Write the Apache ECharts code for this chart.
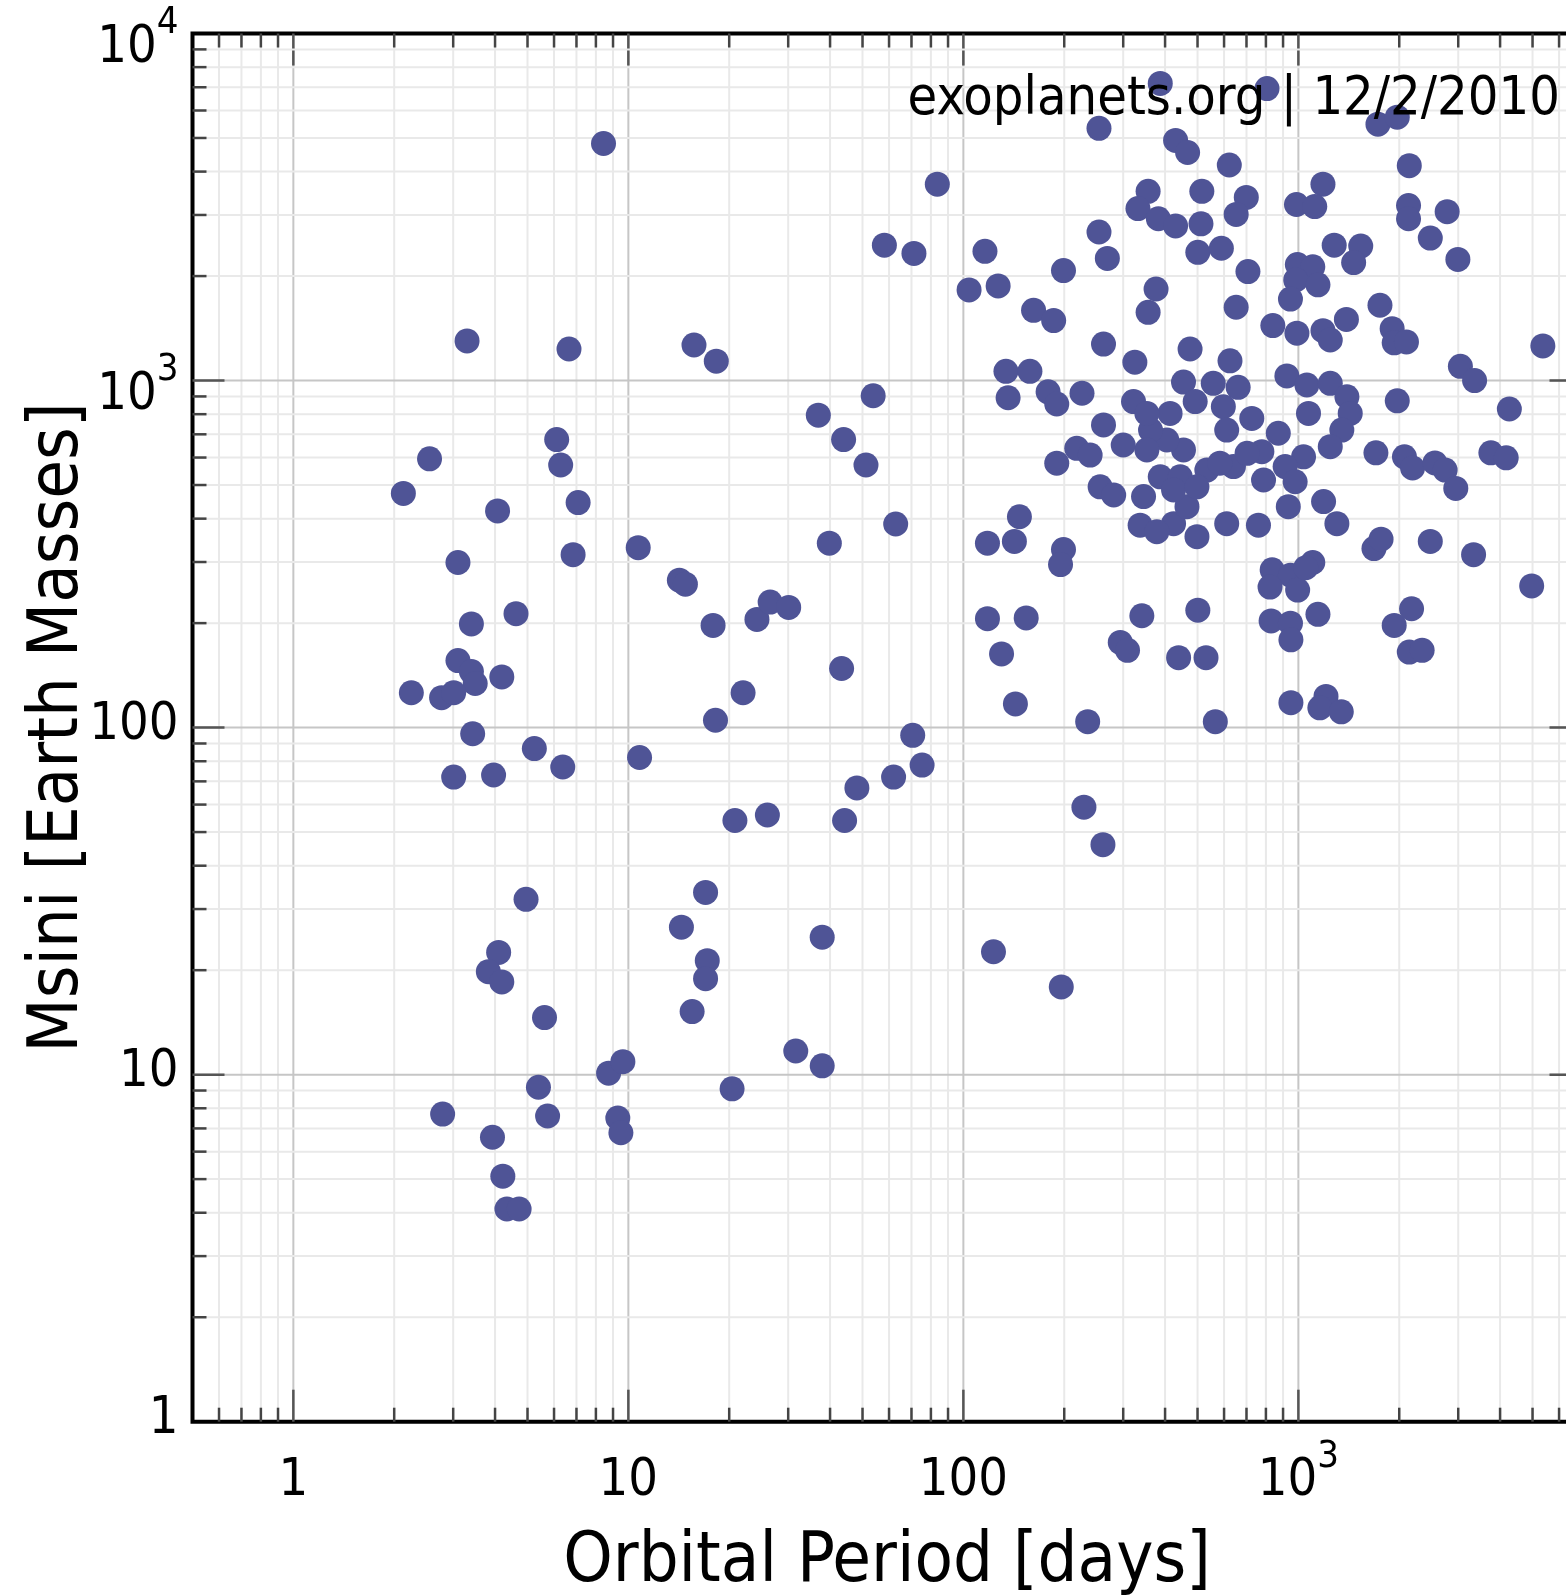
<!DOCTYPE html>
<html>
<head>
<meta charset="utf-8">
<script src="https://cdn.jsdelivr.net/npm/echarts@6/dist/echarts.min.js"></script>
<style>
  html, body { margin: 0; padding: 0; background: #fff; overflow: hidden; }
  #chart { width: 1600px; height: 1596px; }
</style>
</head>
<body>
<div id="chart"></div>
<script>
// Orbital period (days) and minimum mass (Earth masses) of known exoplanets
const periodDays = [
  387, 806, 8.43, 254, 1728, 1973, 430, 467, 622, 2143,
  83.6, 356, 332, 515, 699, 652, 1184, 987, 1119, 382,
  430, 512, 2132, 2132, 2780, 58.1, 71.2, 116, 254, 269,
  501, 589, 1279, 1535, 1462, 2476, 2993, 199, 707, 993,
  1104, 982, 1144, 104, 127, 376, 947, 162, 186, 356,
  652, 1752, 839, 1391, 990, 1184, 1245, 1905, 1932, 2102,
  3.30, 6.65, 15.7, 18.3, 5367, 134, 158, 3045, 3357, 136,
  179, 190, 1973, 4263, 53.8, 36.9, 43.9, 2.55, 2.13, 6.11,
  6.28, 51.2, 1704, 2073, 2192, 2556, 2742, 3755, 4172, 2950,
  7.08, 4.07, 62.8, 10.7, 39.8, 118, 142, 147, 199, 1681,
  1765, 2476, 3.10, 6.84, 195, 3334, 14.2, 14.8, 835, 947,
  1104, 823, 995, 1052, 4970, 4.62, 3.40, 17.9, 24.2, 26.5,
  30.1, 118, 154, 341, 501, 829, 947, 1144, 1932, 2177,
  294, 309, 950, 2143, 2341, 3.10, 3.40, 3.49, 4.19, 2.25,
  2.77, 3.01, 43.3, 130, 439, 530, 22.0, 143, 950, 1209,
  1159, 1343, 3.43, 18.2, 235, 565, 70.6, 5.24, 6.37, 10.8,
  3.01, 3.96, 61.9, 75.3, 48.1, 20.8, 26.0, 44.2, 229, 261,
  4.95, 17.0, 14.4, 37.9, 123, 196, 4.10, 3.82, 4.19, 17.2,
  17.0, 5.62, 15.5, 31.6, 37.9, 8.73, 9.63, 5.39, 20.4, 2.79,
  5.74, 9.30, 9.50, 3.93, 4.22, 4.34, 4.72,
  262, 325, 475, 625, 454, 557, 661, 492, 597, 611,
  726, 924, 1060, 1245, 1396, 1428, 1348, 1245, 1072, 871,
  778, 1036, 913, 787, 978, 933, 1189, 1303, 760, 611,
  498, 424, 337, 378, 345, 465, 387, 444, 424, 533,
  640, 703, 454, 405, 362, 322, 414, 353, 300, 262,
  226, 190, 218, 239, 256, 281, 498, 583, 353
];
const massEarth = [
  7180, 6940, 4820, 5330, 5480, 5740, 4920, 4540, 4180, 4160,
  3680, 3510, 3130, 3510, 3370, 3010, 3680, 3215, 3172, 2925,
  2790, 2828, 3193, 2925, 3066, 2455, 2325, 2357, 2680, 2248,
  2341, 2405, 2455, 2440, 2188, 2573, 2234, 2074, 2060, 2160,
  2128, 1950, 1887, 1824, 1874, 1836, 1717, 1593, 1489, 1572,
  1626, 1648, 1440, 1500, 1369, 1392, 1309, 1411, 1284, 1292,
  1301, 1233, 1266, 1137, 1258, 1063, 1063, 1099, 1000, 892,
  928, 856, 874, 828, 904, 795, 676, 595, 473, 676,
  571, 571, 619, 603, 560, 579, 552, 619, 599, 489,
  445, 421, 386, 330, 340, 340, 344, 405, 326, 328,
  349, 344, 299, 315, 295, 315, 266, 259, 285, 275,
  299, 254, 249, 289, 256, 213, 199, 197, 205, 230,
  222, 206, 207, 210, 218, 203, 200, 212, 197, 220,
  176, 167, 179, 165, 167, 156, 145, 134, 140, 126,
  122, 126, 148, 163, 159, 159, 126, 117, 118, 123,
  114, 111, 96, 105, 104, 104, 95, 87, 77, 82,
  72, 73, 72, 78, 67, 54, 56, 54, 59, 46,
  32, 33.5, 26.6, 24.9, 22.6, 17.9, 22.5, 19.8, 18.5, 21.3,
  18.9, 14.6, 15.2, 11.7, 10.6, 10.1, 10.9, 9.2, 9.1, 7.7,
  7.6, 7.5, 6.8, 6.6, 5.1, 4.1, 4.1,
  1274, 1130, 1233, 1140, 990, 982, 956, 870, 841, 720,
  778, 1031, 971, 982, 898, 804, 720, 645, 804, 705,
  624, 603, 565, 517, 511, 433, 448, 387, 383, 387,
  355, 387, 383, 367, 463, 433, 528, 528, 484, 552,
  565, 617, 631, 674, 720, 870, 804, 631, 652, 745,
  919, 578, 638, 610, 494, 468, 494, 578, 804
];

// Axis ranges and labelled decades
const periodRange = [0.5, 7000];
const massRange = [1, 10000];
const periodDecades = [0.1, 1, 10, 100, 1000];
const massDecades = [1, 10, 100, 1000];
const minorSteps = [2, 3, 4, 5, 6, 7, 8, 9];
const annotation = 'exoplanets.org | 12/2/2010';

const FONT = "'DejaVu Sans Condensed', 'DejaVu Sans', sans-serif";
const INK = '#000';
const DOT = '#4f5496';

// Grid line / tick positions: every decade and its 2..9 subdivisions inside the range
function gridValues(decades, range) {
  const out = [];
  decades.forEach(d => {
    out.push([d, 1]);
    minorSteps.forEach(m => out.push([+(d * m).toPrecision(6), 0]));
  });
  out.push([decades[decades.length - 1] * 10, 1]);
  return out.filter(v => v[0] > range[0] * 1.0001 && v[0] < range[1] * 0.9999);
}
const xGrid = gridValues(periodDecades, periodRange);
const yGrid = gridValues(massDecades, massRange);

function isPow10(v) {
  const l = Math.log10(v);
  return Math.abs(l - Math.round(l)) < 1e-6;
}

// Decade labels: plain numbers below 1000, powers of ten above
function decadeLabel(v) {
  if (!isPow10(v)) return '';
  const e = Math.round(Math.log10(v));
  return e < 3 ? '{p|' + Math.pow(10, e) + '}' : '{m|10}{s|' + e + '}';
}

const MAJOR_LEN = 32, MINOR_LEN = 14;

function vLines(params, api) {
  const cs = params.coordSys;
  const px = api.coord([api.value(0), 1])[0];
  const major = api.value(1) === 1;
  const len = major ? MAJOR_LEN : MINOR_LEN;
  const tickColor = major ? '#555' : '#444';
  const top = cs.y, bottom = cs.y + cs.height;
  return {
    type: 'group',
    children: [
      { type: 'line', shape: { x1: px, y1: top + 2, x2: px, y2: bottom - 2 },
        style: { stroke: major ? '#c6c6c6' : '#e9e9e9', lineWidth: 2 } },
      { type: 'line', shape: { x1: px, y1: top, x2: px, y2: top + len },
        style: { stroke: tickColor, lineWidth: 2.5 } },
      { type: 'line', shape: { x1: px, y1: bottom, x2: px, y2: bottom - len },
        style: { stroke: tickColor, lineWidth: 2.5 } }
    ]
  };
}

function hLines(params, api) {
  const cs = params.coordSys;
  const py = api.coord([1, api.value(0)])[1];
  const major = api.value(1) === 1;
  const len = major ? MAJOR_LEN : MINOR_LEN;
  const tickColor = major ? '#555' : '#444';
  const left = cs.x, right = cs.x + cs.width;
  return {
    type: 'group',
    children: [
      { type: 'line', shape: { x1: left + 2, y1: py, x2: right - 2, y2: py },
        style: { stroke: major ? '#c6c6c6' : '#e9e9e9', lineWidth: 2 } },
      { type: 'line', shape: { x1: left, y1: py, x2: left + len, y2: py },
        style: { stroke: tickColor, lineWidth: 2.5 } },
      { type: 'line', shape: { x1: right, y1: py, x2: right - len, y2: py },
        style: { stroke: tickColor, lineWidth: 2.5 } }
    ]
  };
}

const chart = echarts.init(document.getElementById('chart'), null, { renderer: 'canvas' });

chart.setOption({
  animation: false,
  backgroundColor: '#fff',
  textStyle: { fontFamily: FONT },
  title: {
    text: annotation,
    right: 40,
    top: 73,
    padding: 0,
    textStyle: { fontFamily: FONT, fontSize: 53.7, fontWeight: 'normal', color: INK }
  },
  grid: {
    left: 192.5,
    top: 33.5,
    width: 1389,
    height: 1388.2,
    containLabel: false,
    outerBoundsMode: 'none',
    show: true,
    borderColor: INK,
    borderWidth: 4,
    backgroundColor: '#fff'
  },
  xAxis: {
    type: 'log',
    logBase: 10,
    min: periodRange[0],
    max: periodRange[1],
    name: 'Orbital Period [days]',
    nameLocation: 'middle',
    nameGap: 106,
    nameMoveOverlap: false,
    nameTextStyle: { fontFamily: FONT, fontSize: 70, color: INK },
    axisLine: { show: false },
    axisTick: { show: false },
    splitLine: { show: false },
    minorTick: { show: false },
    axisLabel: {
      margin: 16,
      showMinLabel: true,
      showMaxLabel: true,
      formatter: decadeLabel,
      rich: {
        p: { fontFamily: FONT, fontSize: 52, lineHeight: 70, verticalAlign: 'bottom', color: INK },
        m: { fontFamily: FONT, fontSize: 52, lineHeight: 70, verticalAlign: 'bottom', color: INK },
        s: { fontFamily: FONT, fontSize: 38, verticalAlign: 'top', color: INK }
      }
    }
  },
  yAxis: {
    type: 'log',
    logBase: 10,
    min: massRange[0],
    max: massRange[1],
    name: 'Msini [Earth Masses]',
    nameLocation: 'middle',
    nameGap: 99,
    nameMoveOverlap: false,
    nameRotate: 90,
    nameTextStyle: { fontFamily: FONT, fontSize: 70, color: INK },
    axisLine: { show: false },
    axisTick: { show: false },
    splitLine: { show: false },
    minorTick: { show: false },
    axisLabel: {
      margin: 14,
      padding: [11, 0, 0, 0],
      showMinLabel: true,
      showMaxLabel: true,
      formatter: decadeLabel,
      rich: {
        p: { fontFamily: FONT, fontSize: 52, lineHeight: 68, verticalAlign: 'top', color: INK },
        m: { fontFamily: FONT, fontSize: 52, lineHeight: 70.5, verticalAlign: 'bottom', color: INK },
        s: { fontFamily: FONT, fontSize: 38, verticalAlign: 'top', color: INK }
      }
    }
  },
  series: [
    {
      type: 'custom',
      name: 'period grid',
      silent: true,
      z: 1,
      dimensions: ['v', 'major'],
      encode: { x: 'v' },
      data: xGrid,
      renderItem: vLines
    },
    {
      type: 'custom',
      name: 'mass grid',
      silent: true,
      z: 1,
      dimensions: ['v', 'major'],
      encode: { y: 'v' },
      data: yGrid,
      renderItem: hLines
    },
    {
      type: 'scatter',
      name: 'planets',
      z: 3,
      symbol: 'circle',
      symbolSize: 25,
      itemStyle: { color: DOT, opacity: 1 },
      data: periodDays.map((p, i) => [p, massEarth[i]])
    }
  ]
});
</script>
</body>
</html>
